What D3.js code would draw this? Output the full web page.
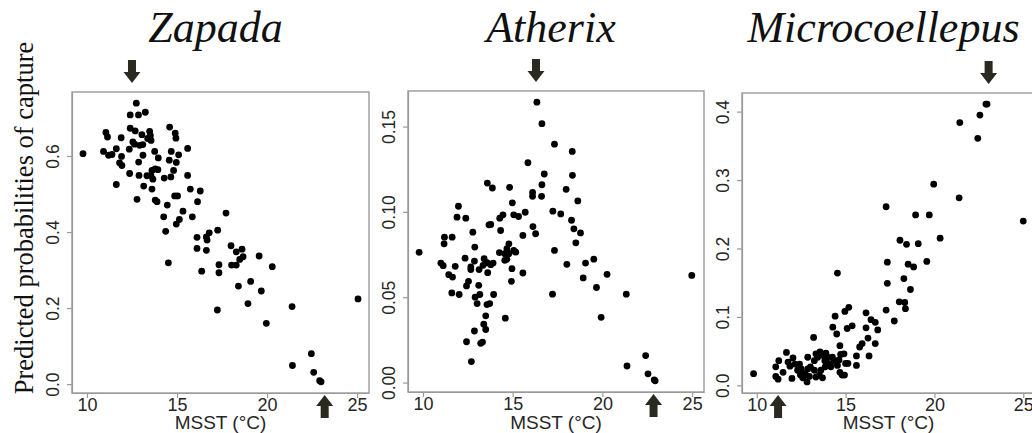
<!DOCTYPE html>
<html><head><meta charset="utf-8">
<script src="https://cdn.jsdelivr.net/npm/d3@7"></script>
<style>body{margin:0;background:#fff}svg{display:block}</style>
</head><body>
<svg id="c" width="1032" height="433"></svg>
<script>
// ---- data ----
const titles = ["Zapada", "Atherix", "Microcoellepus"];
const xTicks = [10, 15, 20, 25];
const yTicksZapada = [0, 0.2, 0.4, 0.6];
const yTicksAtherix = [0, 0.05, 0.10, 0.15];
const yTicksMicro = [0, 0.1, 0.2, 0.3, 0.4];
const optimumDown = [12.5, 16.3, 23.05];   // arrow above plot
const optimumUp = [23.2, 22.85, 11.2];     // arrow below plot
const xLabel = "MSST (°C)";
const yLabel = "Predicted probabilities of capture";

const zapada = [
[9.78,0.606],[12.74,0.739],[12.4,0.708],[12.86,0.708],[13.24,0.715],[11.05,0.662],[11.14,0.650],
[11.9,0.648],[12.4,0.673],[12.68,0.666],[13.05,0.656],[13.48,0.665],[13.52,0.654],[13.37,0.646],
[13.56,0.641],[12.55,0.637],[12.64,0.631],[12.92,0.628],[13.1,0.630],[12.35,0.618],[14.59,0.676],[14.9,0.660],
[14.94,0.647],[15.59,0.620],[10.92,0.612],[11.2,0.602],[11.39,0.604],[11.63,0.619],[11.92,0.599],
[11.81,0.582],[11.94,0.575],[12.87,0.584],[13.11,0.602],[13.76,0.612],[13.96,0.595],[14.68,0.612],
[14.57,0.589],[14.96,0.583],[15.09,0.603],[12.37,0.554],[12.89,0.549],[13.61,0.562],[13.79,0.566],
[13.94,0.564],[13.55,0.549],[13.66,0.539],[13.33,0.548],[14.29,0.542],[14.66,0.545],[14.81,0.562],
[15.59,0.549],[11.63,0.525],[13.15,0.521],[13.61,0.513],[12.78,0.486],[13.79,0.484],[13.89,0.480],
[14.87,0.495],[15.03,0.495],[15.74,0.513],[16.29,0.508],[16.14,0.480],[14.46,0.471],[15.33,0.455],
[14.26,0.440],[15.13,0.433],[14.96,0.421],[15.85,0.440],[17.72,0.450],[14.37,0.402],[17.26,0.405],
[16.11,0.386],[16.11,0.357],[16.63,0.387],[16.67,0.379],[16.79,0.398],[16.63,0.352],[14.52,0.319],
[16.37,0.297],[17.33,0.314],[17.33,0.293],[18.0,0.364],[18.29,0.348],[18.61,0.355],[18.67,0.335],
[18.48,0.328],[18.29,0.313],[18.03,0.313],[19.56,0.337],[20.29,0.309],[18.41,0.258],[19.09,0.270],
[19.68,0.245],[18.94,0.212],[17.24,0.195],[21.39,0.204],[19.96,0.160],[22.46,0.080],[21.41,0.049],
[22.59,0.031],[22.92,0.009],[23.0,0.006],[25.05,0.224]
];
const atherix = [
[9.79,0.0763],[11.98,0.1033],[11.9,0.0969],[12.39,0.0963],[11.2,0.0852],[11.63,0.0852],[11.18,0.0813],
[12.78,0.0881],[13.59,0.1169],[13.87,0.114],[13.68,0.0924],[13.78,0.0926],[12.89,0.0794],[11.0,0.070],
[11.13,0.0685],[11.8,0.0681],[11.44,0.0632],[11.65,0.0618],[12.35,0.0729],[12.67,0.0677],[12.67,0.0662],
[12.87,0.0712],[13.13,0.0662],[13.35,0.0687],[13.41,0.0726],[13.57,0.0702],[13.61,0.0644],[13.91,0.070],
[13.78,0.0691],[13.94,0.0516],[11.61,0.0525],[12.02,0.0516],[12.43,0.0566],[12.54,0.0593],[13.11,0.057],
[12.91,0.05],[13.02,0.0463],[13.17,0.0516],[13.57,0.0457],[13.72,0.0463],[13.5,0.0391],[13.39,0.0342],
[13.5,0.0311],[12.87,0.0302],[12.43,0.0239],[13.22,0.023],[13.32,0.0237],[12.7,0.0123],[14.28,0.0963],
[14.46,0.0983],[14.83,0.1144],[14.33,0.0891],[14.98,0.1053],[15.06,0.0983],[15.33,0.0973],[15.7,0.0998],
[15.85,0.1288],[14.26,0.0761],[14.56,0.0755],[14.79,0.0813],[14.68,0.0784],[14.79,0.0755],[15.06,0.0774],
[15.17,0.0764],[14.56,0.0716],[14.68,0.0722],[14.96,0.0667],[14.93,0.0593],[15.57,0.0862],[15.57,0.0642],
[14.59,0.0377],[16.13,0.0914],[16.28,0.0872],[16.11,0.1114],[16.11,0.1091],[16.35,0.1643],[16.63,0.1517],
[16.76,0.1222],[16.63,0.1159],[16.61,0.1091],[17.33,0.1397],[17.24,0.1004],[17.33,0.0774],[17.22,0.0518],
[17.68,0.0988],[17.98,0.1132],[18.02,0.0693],[18.32,0.1354],[18.33,0.1214],[18.63,0.1064],[18.28,0.0951],
[18.41,0.0901],[18.52,0.0819],[18.78,0.0877],[19.06,0.070],[18.93,0.0613],[19.52,0.0723],[19.67,0.0557],
[20.26,0.0634],[19.93,0.0382],[21.33,0.0518],[21.37,0.0097],[22.41,0.0158],[22.54,0.0051],[22.89,0.0016],
[22.94,0.001],[24.98,0.0628]
];
const microcoellepus = [
[9.82,0.017],[22.9,0.411],[22.96,0.411],[22.56,0.395],[21.43,0.384],[22.44,0.361],[19.96,0.294],
[21.39,0.274],[17.28,0.261],[18.94,0.249],[19.71,0.249],[25.0,0.240],[20.32,0.215],[18.06,0.212],
[18.43,0.206],[19.09,0.207],[17.35,0.180],[19.57,0.181],[18.52,0.177],[18.83,0.173],[14.54,0.164],
[17.35,0.149],[18.28,0.156],[18.65,0.140],[18.02,0.122],[18.33,0.121],[18.37,0.112],[17.28,0.110],
[17.74,0.094],[14.96,0.108],[15.18,0.114],[14.41,0.101],[14.28,0.085],[14.5,0.075],[15.09,0.083],
[15.37,0.087],[16.15,0.106],[16.43,0.096],[16.67,0.092],[16.81,0.081],[16.15,0.084],[16.26,0.069],
[16.67,0.061],[16.32,0.043],[15.93,0.061],[15.79,0.056],[15.61,0.043],[15.61,0.029],[13.2,0.070],
[14.68,0.058],[11.67,0.048],[11.07,0.027],[11.24,0.036],[11.07,0.013],[11.2,0.009],[11.48,0.019],
[11.76,0.034],[12.04,0.040],[11.87,0.028],[11.98,0.010],[12.41,0.031],[12.5,0.024],[12.46,0.015],
[12.59,0.011],[12.72,0.017],[12.83,0.005],[12.96,0.013],[12.87,0.024],[13.02,0.027],[12.87,0.041],
[13.24,0.036],[13.43,0.041],[13.33,0.046],[13.56,0.049],[13.7,0.044],[13.83,0.036],[13.89,0.047],
[13.98,0.041],[14.04,0.032],[14.26,0.041],[13.24,0.022],[13.52,0.015],[13.61,0.022],[13.85,0.027],
[13.33,0.012],[13.7,0.011],[14.17,0.027],[14.44,0.035],[14.54,0.029],[14.72,0.045],[14.91,0.046],
[15.0,0.032],[14.68,0.019],[14.81,0.015],[14.94,0.015],[14.35,0.035],[14.63,0.037],[15.13,0.032],
[12.15,0.031],[12.3,0.022]
];

// ---- layout ----
const panels = [
  {data: zapada, ticks: yTicksZapada, fmt: ".1f", l: 72, t: 92, r: 369, b: 393},
  {data: atherix, ticks: yTicksAtherix, fmt: ".2f", l: 408, t: 91, r: 704, b: 392},
  {data: microcoellepus, ticks: yTicksMicro, fmt: ".1f", l: 742, t: 93, r: 1035, b: 393}
];
const frameColor = "#9a9a9a";
const textColor = "#262626";
const arrowColor = "#2b2a20";
const sans = "'Liberation Sans', Arial, sans-serif";
const serif = "'Liberation Serif', 'Times New Roman', serif";

const svg = d3.select("#c");

function pad(ext) { const d = (ext[1] - ext[0]) * 0.04; return [ext[0] - d, ext[1] + d]; }
const allX = [].concat(zapada, atherix, microcoellepus).map(d => d[0]);
const xDomain = pad(d3.extent(allX));

function arrowPath(cx, tipY, dir) {
  const L = 23, hl = 11, hw = 8.5, sw = 4;
  const p = [[cx - sw, tipY - dir * L], [cx + sw, tipY - dir * L], [cx + sw, tipY - dir * hl],
             [cx + hw, tipY - dir * hl], [cx, tipY], [cx - hw, tipY - dir * hl], [cx - sw, tipY - dir * hl]];
  return d3.line()(p) + "Z";
}

panels.forEach((p, i) => {
  const x = d3.scaleLinear().domain(xDomain).range([p.l, p.r]);
  const y = d3.scaleLinear().domain(pad(d3.extent(p.data, d => d[1]))).range([p.b, p.t]);
  const g = svg.append("g");

  g.append("rect").attr("x", p.l).attr("y", p.t).attr("width", p.r - p.l).attr("height", p.b - p.t)
    .attr("fill", "none").attr("stroke", frameColor).attr("stroke-width", 1.4);

  const ya = g.append("g").attr("transform", `translate(${p.l},0)`)
    .call(d3.axisLeft(y).tickValues(p.ticks).tickFormat(d3.format(p.fmt)).tickSize(5).tickSizeOuter(0));
  ya.select(".domain").attr("stroke", frameColor).attr("stroke-width", 1.2);
  ya.selectAll(".tick line").attr("stroke", frameColor).attr("stroke-width", 1.2);
  ya.selectAll(".tick text").attr("transform", "rotate(-90)").attr("x", 0).attr("y", -13).attr("dy", 0)
    .attr("text-anchor", "middle").attr("fill", textColor)
    .style("font-family", sans).style("font-size", "17.5px");

  const xa = g.append("g").attr("transform", `translate(0,${p.b})`)
    .call(d3.axisBottom(x).tickValues(xTicks).tickFormat(d3.format("d")).tickSize(5).tickSizeOuter(0));
  xa.select(".domain").attr("stroke", frameColor).attr("stroke-width", 1.2);
  xa.selectAll(".tick line").attr("stroke", frameColor).attr("stroke-width", 1.2);
  xa.selectAll(".tick text").attr("y", 5).attr("dy", "0.71em").attr("fill", textColor)
    .style("font-family", sans).style("font-size", "18px");

  g.append("text").attr("x", (p.l + p.r) / 2).attr("y", 429).attr("text-anchor", "middle")
    .attr("fill", textColor).style("font-family", sans).style("font-size", "19px").text(xLabel);

  g.append("text").attr("x", (p.l + p.r) / 2 - 5).attr("y", 42).attr("text-anchor", "middle")
    .attr("fill", "#111").style("font-family", serif).style("font-style", "italic")
    .style("font-size", "44px").text(titles[i]);

  g.append("g").selectAll("circle").data(p.data).join("circle")
    .attr("cx", d => x(d[0])).attr("cy", d => y(d[1])).attr("r", 3.4).attr("fill", "#000");

  g.append("path").attr("d", arrowPath(x(optimumDown[i]), p.t - 9, 1)).attr("fill", arrowColor);
  g.append("path").attr("d", arrowPath(x(optimumUp[i]), p.b + 2, -1)).attr("fill", arrowColor);
});

svg.append("text").attr("transform", "translate(33,218) rotate(-90)").attr("text-anchor", "middle")
  .attr("fill", "#111").style("font-family", serif).style("font-size", "26.5px").text(yLabel);
</script>
</body></html>
